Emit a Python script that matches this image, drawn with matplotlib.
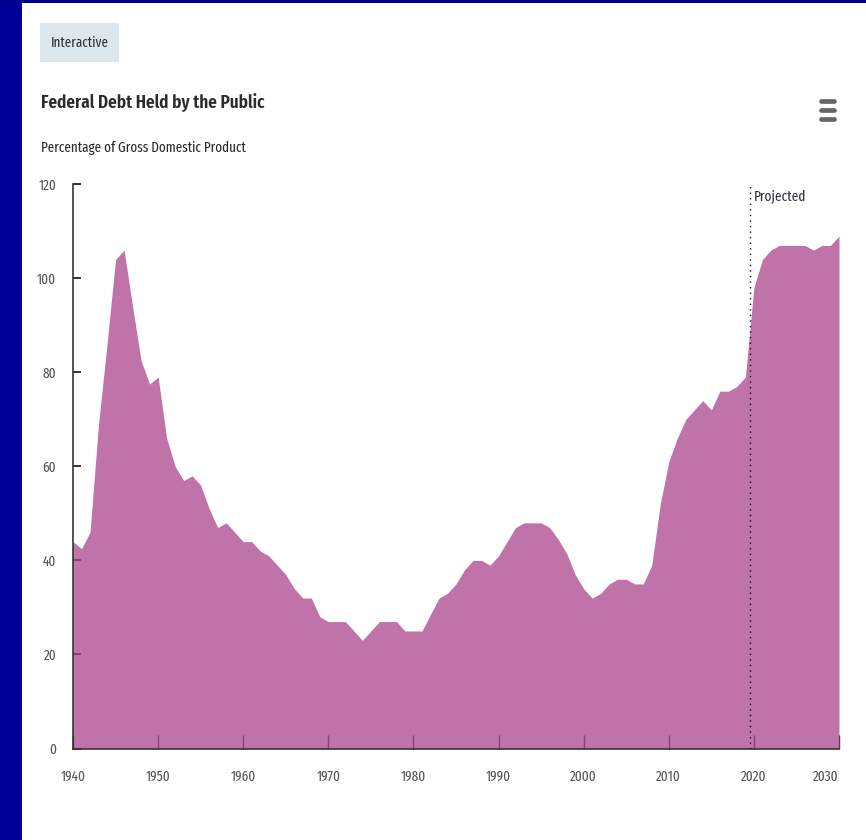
import matplotlib
matplotlib.use("Agg")
import matplotlib.pyplot as plt
from matplotlib.patches import Rectangle
from matplotlib.lines import Line2D

FONT = ['Fira Sans Extra Condensed', 'Roboto Condensed', 'DejaVu Sans']
plt.rcParams['font.family'] = FONT

years = list(range(1940, 2031))
debt_pct_gdp = [
    44, 42.5, 46, 69, 86, 104, 106, 94, 82.5, 77.5,      # 1940-1949
    79, 66, 60, 57, 58, 56, 51, 47, 48, 46,              # 1950-1959
    44, 44, 42, 41, 39, 37, 34, 32, 32, 28,              # 1960-1969
    27, 27, 27, 25, 23, 25, 27, 27, 27, 25,              # 1970-1979
    25, 25, 28.5, 32, 33, 35, 38, 40, 40, 39,            # 1980-1989
    41, 44, 47, 48, 48, 48, 47, 44.5, 41.5, 37,          # 1990-1999
    34, 32, 33, 35, 36, 36, 35, 35, 39, 52,              # 2000-2009
    61, 66, 70, 72, 74, 72, 76, 76, 77, 79,              # 2010-2019
    98, 104, 106, 107, 107, 107, 107, 106, 107, 107,     # 2020-2029
    109,                                                 # 2030
]
x_ticks = [1940, 1950, 1960, 1970, 1980, 1990, 2000, 2010, 2020, 2030]
y_ticks = [0, 20, 40, 60, 80, 100, 120]
projection_start = 2019.5

title = "Federal Debt Held by the Public"
subtitle = "Percentage of Gross Domestic Product"
badge = "Interactive"
proj_label = "Projected"

W, H = 866, 840
fig = plt.figure(figsize=(W / 100, H / 100), dpi=100)
fig.patch.set_facecolor('white')
renderer = fig.canvas.get_renderer()


def fx(px):
    return px / W


def fy(py):
    return 1 - py / H


def fit(t, target_px):
    w = t.get_window_extent(renderer=renderer).width
    t.set_fontsize(t.get_fontsize() * target_px / w)
    return t


# dark blue frame (left strip, top strip)
fig.patches.append(Rectangle((0, 0), fx(22), 1, transform=fig.transFigure,
                             facecolor='#000096', edgecolor='none', zorder=0))
fig.patches.append(Rectangle((0, fy(3)), 1, 3 / H, transform=fig.transFigure,
                             facecolor='#00008c', edgecolor='none', zorder=0))

# badge
fig.patches.append(Rectangle((fx(40), fy(62)), fx(119) - fx(40), (62 - 23) / H,
                             transform=fig.transFigure, facecolor='#dce7ee',
                             edgecolor='none', zorder=1))
fit(fig.text(fx(79.5), fy(43), badge, ha='center', va='center', fontsize=11,
             color='#333333'), 58)

fit(fig.text(fx(41), fy(103), title, ha='left', va='center', fontsize=15,
             fontweight='semibold', color='#2b2b2b'), 225)
fit(fig.text(fx(41), fy(148), subtitle, ha='left', va='center', fontsize=11,
             color='#2b2b2b'), 205)

# hamburger icon
for yy in (101, 110, 119):
    fig.lines.append(Line2D([fx(821), fx(834)], [fy(yy), fy(yy)],
                            transform=fig.transFigure, color='#666666',
                            linewidth=3.4, solid_capstyle='round'))

ax = fig.add_axes([fx(73), fy(748.5), fx(839) - fx(73), (748.5 - 184.3) / H])
ax.set_axisbelow(True)
ax.fill_between(years, debt_pct_gdp, 0, color='#ab448c', alpha=0.75,
                linewidth=0, zorder=1)
ax.axvline(projection_start, color='#111111', linestyle=(0, (1, 3)),
           linewidth=1, zorder=3)
fit(ax.text(projection_start + 0.55, 117.3, proj_label, ha='left', va='center',
            fontsize=11, color='#333344'), 52)

ax.set_xlim(1940, 2030)
ax.set_ylim(0, 120)
ax.set_xticks(x_ticks)
ax.set_xticklabels([str(t) for t in x_ticks])
ax.set_yticks(y_ticks)
ax.set_yticklabels([str(t) for t in y_ticks])

for s in ('top', 'right'):
    ax.spines[s].set_visible(False)
for s in ('left', 'bottom'):
    ax.spines[s].set_color('#333333')
    ax.spines[s].set_linewidth(1.2)

# tick label size chosen so "1940" is ~25 px wide
probe = fig.text(0, 0, "1940", fontsize=10)
fit(probe, 25)
tick_fs = probe.get_fontsize()
probe.remove()

ax.tick_params(axis='x', direction='in', length=10, width=1, color='#333333',
               pad=15, labelsize=tick_fs, labelcolor='#555555')
ax.tick_params(axis='y', direction='in', length=6, width=1.4, color='#333333',
               pad=12, labelsize=tick_fs, labelcolor='#555555')
ax.get_xticklabels()[-1].set_ha('right')
ax.set_facecolor('white')

fig.savefig('out.png', dpi=100)
